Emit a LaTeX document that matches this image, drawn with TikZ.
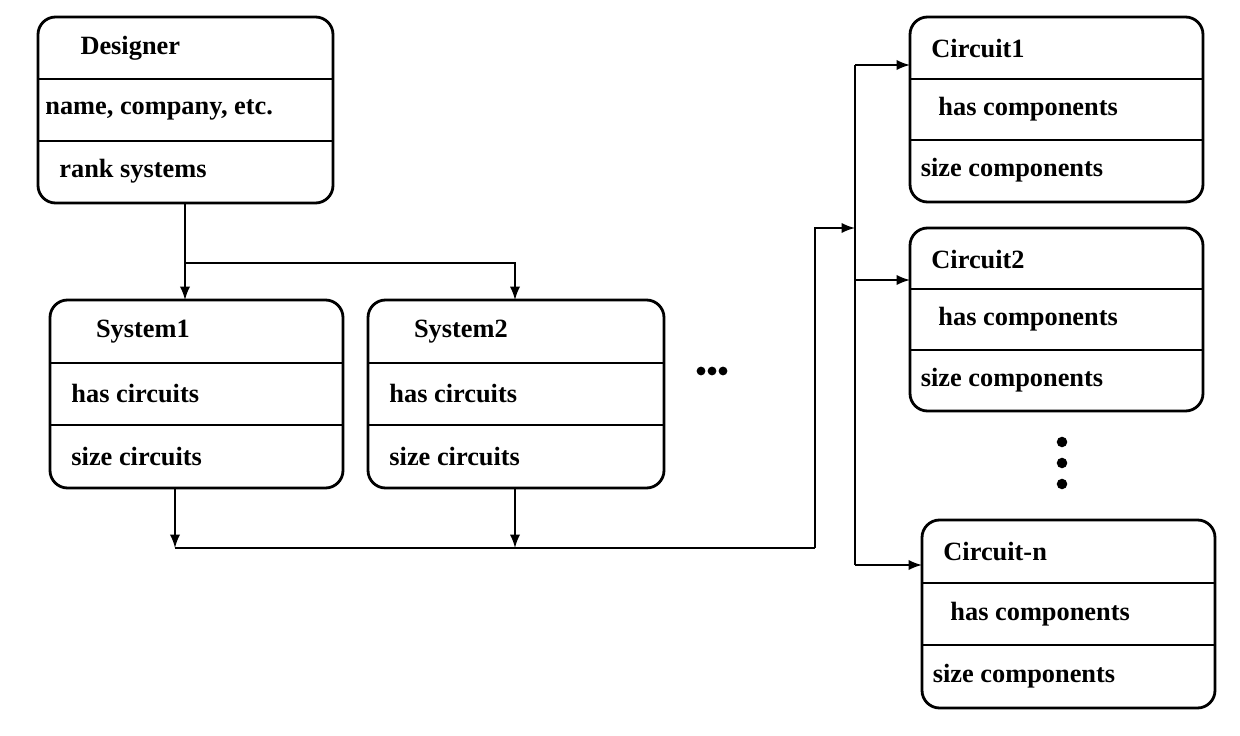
\documentclass[tikz,border=0pt]{standalone}
\usepackage{fontspec}
\setmainfont{Liberation Serif}
\usetikzlibrary{positioning,calc,arrows}

% #1 name, #2 top-left corner, #3 size, #4 title, #5 second row, #6 third row
\newcommand{\classbox}[6]{%
  \coordinate (#1-tl) at #2;
  \draw[box] (#1-tl) rectangle ($(#1-tl)+#3$);
  \coordinate (#1-br) at ($(#1-tl)+#3$);
  \node[boxtext] (#1) at ($(#1-tl)!0.17!(#1-tl|-#1-br)$) {#4};
  \draw[divider] ($(#1-tl)!0.335!(#1-tl|-#1-br)$) -- ($(#1-br|-#1-tl)!0.335!(#1-br)$);
  \node[boxtext] (#1-a) at ($(#1-tl)!0.5!(#1-tl|-#1-br)$) {#5};
  \draw[divider] ($(#1-tl)!0.665!(#1-tl|-#1-br)$) -- ($(#1-br|-#1-tl)!0.665!(#1-br)$);
  \node[boxtext] (#1-b) at ($(#1-tl)!0.83!(#1-tl|-#1-br)$) {#6};
}

\begin{document}
\begin{tikzpicture}[x=0.02cm,y=-0.02cm,
    box/.style={line width=1.6pt,rounded corners=10pt},
    divider/.style={line width=1.1pt},
    boxtext/.style={anchor=west,font=\fontsize{15}{17}\selectfont\bfseries,inner sep=2pt,xshift=10pt},
    link/.style={line width=1.6pt,-latex},
    dot/.style={circle,fill,inner sep=0pt,minimum size=6pt}]
  \useasboundingbox (0,0) rectangle (1240,736);

  \classbox{designer}{(38,17)}{(295,186)}{\hspace{12pt}Designer}{\hspace{-8pt}name, company, etc.}{rank systems}
  \classbox{sys1}{(50,300)}{(293,188)}{\hspace{14pt}System1}{has circuits}{size circuits}
  \classbox{sys2}{(368,300)}{(296,188)}{\hspace{14pt}System2}{has circuits}{size circuits}
  \classbox{circ1}{(910,17)}{(293,185)}{Circuit1}{\hspace{4pt}has components}{\hspace{-6pt}size components}
  \classbox{circ2}{(910,228)}{(293,183)}{Circuit2}{\hspace{4pt}has components}{\hspace{-6pt}size components}
  \classbox{circn}{(922,520)}{(293,188)}{Circuit-n}{\hspace{4pt}has components}{\hspace{-6pt}size components}

  % dots between boxes
  \foreach \i in {0,1,2} {
    \node[dot,minimum size=5pt] (hdot\i) at (701+\i*11,371) {};
    \node[dot] (vdot\i) at (1062,442+\i*21) {};
  }

  % designer to systems
  \coordinate (dsplit) at (185,263);
  \draw[line width=1.6pt] (185,203) -- (dsplit);
  \draw[link] (dsplit) -- (185,300);
  \draw[link] (dsplit) -| (515,300);

  % systems to circuits
  \coordinate (bus) at (815,548);
  \draw[link] (175,488) -- (175,548);
  \draw[link] (515,488) -- (515,548);
  \draw[line width=1.6pt] (175,548) -- (bus);
  \draw[link] (bus) |- (855,228);
  \draw[line width=1.6pt] (855,65) -- (855,565);
  \draw[link] (855,65) -- (910,65);
  \draw[link] (855,280) -- (910,280);
  \draw[link] (855,565) -- (922,565);
\end{tikzpicture}
\end{document}
